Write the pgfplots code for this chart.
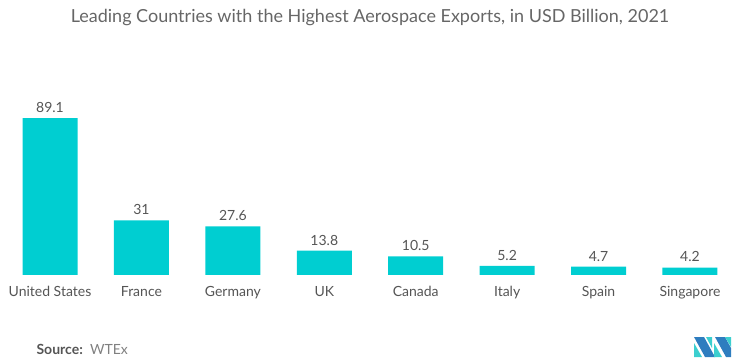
\documentclass[border=0pt]{standalone}
\usepackage{fontspec}
\setmainfont{Lato}
\usepackage{pgfplots}
\pgfplotsset{compat=1.18}
\definecolor{bar}{HTML}{00CED1}
\definecolor{txt}{HTML}{555555}
\definecolor{ttl}{HTML}{666666}
\definecolor{logoA}{HTML}{2E7DBF}
\definecolor{logoB}{HTML}{3CCFCF}
\begin{document}
\begin{tikzpicture}
\useasboundingbox (0,0) rectangle (743pt,361pt);
\node[font=\fontsize{18}{21}\selectfont, text=ttl] at (370pt,343pt) {Leading Countries with the Highest Aerospace Exports, in USD Billion, 2021};
\begin{axis}[
  at={(4.3pt,86pt)}, anchor=south west,
  scale only axis, width=731.4pt, height=176.2pt,
  xmin=-0.5, xmax=7.5, ymin=0, ymax=100,
  axis lines=none,
  ybar, bar width=55pt,
  xtick=data,
  xticklabels={United States,France,Germany,UK,Canada,Italy,Spain,Singapore},
  nodes near coords,
  every node near coord/.append style={font=\fontsize{14}{16}\selectfont, text=txt, yshift=2pt},
  point meta=explicit symbolic,
  clip=false,
]
\addplot[fill=bar, draw=none] coordinates {(0,89.1)[89.1] (1,31)[31] (2,27.6)[27.6] (3,13.8)[13.8] (4,10.5)[10.5] (5,5.2)[5.2] (6,4.7)[4.7] (7,4.2)[4.2]};
\foreach \i/\n in {0/United States,1/France,2/Germany,3/UK,4/Canada,5/Italy,6/Spain,7/Singapore}{
  \edef\temp{\noexpand\node[font=\noexpand\fontsize{14}{16}\noexpand\selectfont, text=txt, anchor=base] at (axis cs:\i,0) [yshift=-21pt] {\n};}
  \temp
}
\end{axis}
\node[anchor=base west, font=\fontsize{14}{16}\selectfont, text=txt] at (33pt,7pt) {\textbf{Source:}\ \ \textcolor{gray}{WTEx}};
% logo
\fill[logoB] (694pt,4pt) -- (694pt,18pt) -- (702pt,4pt) -- cycle;
\fill[logoA] (694pt,24pt) -- (704pt,24pt) -- (715pt,4pt) -- (705pt,4pt) -- cycle;
\fill[logoB] (706pt,24pt) -- (712pt,24pt) -- (712pt,13pt) -- cycle;
\fill[logoB] (714pt,4pt) -- (714pt,18pt) -- (722pt,4pt) -- cycle;
\fill[logoA] (715pt,24pt) -- (725pt,24pt) -- (731pt,13pt) -- (731pt,4pt) -- (726pt,4pt) -- cycle;
\fill[logoB] (725pt,24pt) -- (731pt,24pt) -- (731pt,14pt) -- cycle;
\end{tikzpicture}
\end{document}
